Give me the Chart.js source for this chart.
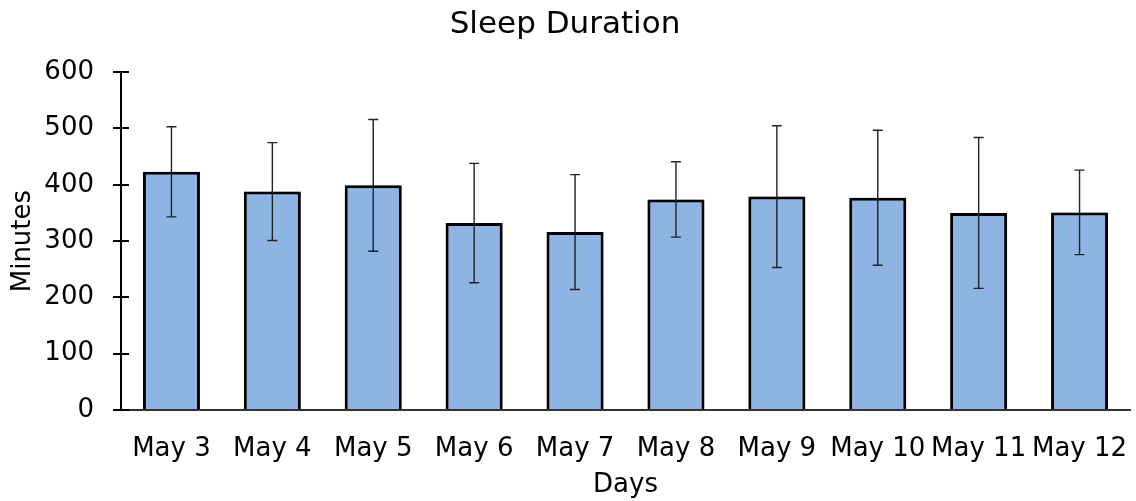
<!DOCTYPE html>
<html>
<head>
<meta charset="utf-8">
<script src="https://cdn.jsdelivr.net/npm/chart.js@4"></script>
<style>
  body { margin: 0; background: #fff; }
  #wrap { width: 1136px; height: 501px; }
</style>
</head>
<body>
<div id="wrap"><canvas id="sleepChart"></canvas></div>
<script>
const days = ['May 3', 'May 4', 'May 5', 'May 6', 'May 7', 'May 8', 'May 9', 'May 10', 'May 11', 'May 12'];
const minutes = [423, 388, 399, 332, 316, 374, 379, 377, 350, 351];
const errors = [80, 87, 117, 106, 102, 67, 126, 120, 134, 75];
const yTicks = [0, 100, 200, 300, 400, 500, 600];

const font = 'DejaVu Sans, Verdana, sans-serif';

// soft shadow under the bars
const barShadow = {
    id: 'barShadow',
    beforeDatasetDraw(chart) {
        const c = chart.ctx;
        c.save();
        c.shadowColor = 'rgba(0,0,0,0.35)';
        c.shadowBlur = 4;
    },
    afterDatasetDraw(chart) {
        chart.ctx.restore();
    }
};

// error bars + inside half of the y tick marks
const extras = {
    id: 'extras',
    afterDatasetsDraw(chart) {
        const c = chart.ctx;
        const x = chart.scales.x, y = chart.scales.y;
        c.save();
        c.strokeStyle = '#222';
        c.lineWidth = 1.4;
        minutes.forEach(function (v, i) {
            const px = x.getPixelForValue(i);
            const top = y.getPixelForValue(v + errors[i]);
            const bot = y.getPixelForValue(v - errors[i]);
            c.beginPath();
            c.moveTo(px, top); c.lineTo(px, bot);
            c.moveTo(px - 5, top); c.lineTo(px + 5, top);
            c.moveTo(px - 5, bot); c.lineTo(px + 5, bot);
            c.stroke();
        });
        c.strokeStyle = '#000';
        c.lineWidth = 2;
        yTicks.forEach(function (t) {
            const py = Math.round(y.getPixelForValue(t));
            c.beginPath();
            c.moveTo(y.right, py); c.lineTo(y.right + 8, py);
            c.stroke();
        });
        c.restore();
    }
};

new Chart(document.getElementById('sleepChart'), {
    type: 'bar',
    data: {
        labels: days,
        datasets: [{
            label: 'Sleep',
            data: minutes,
            backgroundColor: '#8EB4E3',
            borderColor: '#000',
            borderWidth: 3,
            categoryPercentage: 1,
            barPercentage: 0.565
        }]
    },
    options: {
        responsive: true,
        maintainAspectRatio: false,
        animation: false,
        layout: { padding: { left: 0, right: 6, top: 0, bottom: 0 } },
        plugins: {
            legend: { display: false },
            tooltip: { enabled: false },
            title: {
                display: true,
                text: 'Sleep Duration',
                color: '#000',
                font: { family: font, size: 31, weight: 'normal' },
                padding: { top: 6, bottom: 29 }
            }
        },
        scales: {
            x: {
                grid: { display: false },
                border: { color: '#333', width: 2 },
                ticks: {
                    color: '#000',
                    font: { family: font, size: 26 },
                    maxRotation: 0,
                    autoSkip: false,
                    padding: 16
                },
                title: {
                    display: true,
                    text: 'Days',
                    color: '#000',
                    font: { family: font, size: 26 },
                    padding: { top: 0, bottom: 0 }
                },
                afterFit(scale) {
                    scale.height = 91;
                    scale.paddingLeft = 0;
                    scale.paddingRight = 0;
                }
            },
            y: {
                min: 0,
                max: 600,
                afterBuildTicks(scale) {
                    scale.ticks = yTicks.map(function (v) { return { value: v }; });
                },
                grid: {
                    drawOnChartArea: false,
                    drawTicks: true,
                    tickLength: 8,
                    color: '#000',
                    lineWidth: 2
                },
                border: { color: '#000', width: 2 },
                ticks: {
                    color: '#000',
                    font: { family: font, size: 26 },
                    padding: 19
                },
                title: {
                    display: true,
                    text: 'Minutes',
                    color: '#000',
                    font: { family: font, size: 26 },
                    padding: { top: 8, bottom: 0 }
                },
                afterFit(scale) { scale.width = 121; }
            }
        }
    },
    plugins: [barShadow, extras]
});
</script>
</body>
</html>
